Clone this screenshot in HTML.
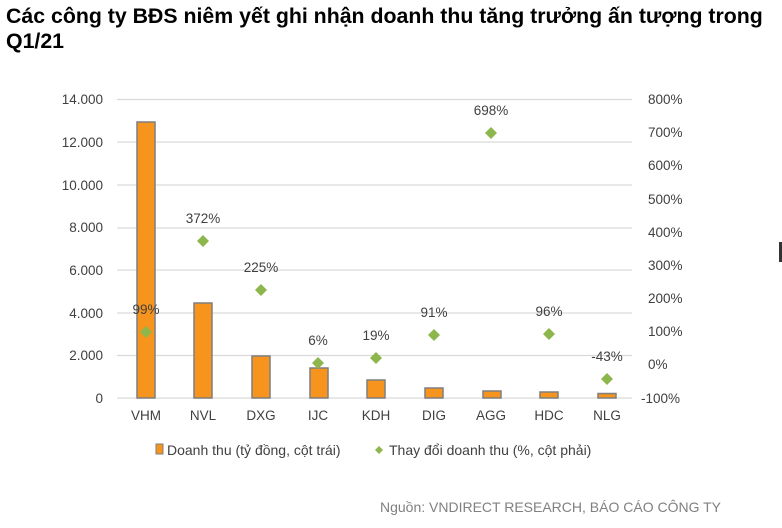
<!DOCTYPE html>
<html><head><meta charset="utf-8"><style>
body{margin:0;background:#fff;width:782px;height:528px;overflow:hidden;font-family:"Liberation Sans",Arial,sans-serif}
.t{position:absolute;left:6px;top:4px;font-weight:bold;font-size:21.3px;line-height:25px;color:#000;white-space:nowrap}
</style></head><body>
<div class="t">Các công ty BĐS niêm yết ghi nhận doanh thu tăng trưởng ấn tượng trong<br>Q1/21</div>
<svg width="782" height="528" style="position:absolute;left:0;top:0" font-family="Liberation Sans,Arial,sans-serif">
<g stroke="#d9d9d9" stroke-width="1.3">
<line x1="117" x2="632" y1="99.5" y2="99.5"/><line x1="117" x2="632" y1="142" y2="142"/>
<line x1="117" x2="632" y1="185" y2="185"/><line x1="117" x2="632" y1="228" y2="228"/>
<line x1="117" x2="632" y1="270" y2="270"/><line x1="117" x2="632" y1="313" y2="313"/>
<line x1="117" x2="632" y1="355.5" y2="355.5"/><line x1="117" x2="632" y1="398" y2="398"/>
</g>
<g font-size="13.5" fill="#404040" text-anchor="end">
<text x="103" y="104">14.000</text><text x="103" y="147">12.000</text><text x="103" y="190">10.000</text>
<text x="103" y="232">8.000</text><text x="103" y="275">6.000</text><text x="103" y="318">4.000</text>
<text x="103" y="360">2.000</text><text x="103" y="403">0</text>
</g>
<g font-size="13.5" fill="#404040" text-anchor="start">
<text x="648" y="104">800%</text><text x="648" y="137">700%</text><text x="648" y="170">600%</text>
<text x="648" y="204">500%</text><text x="648" y="237">400%</text><text x="648" y="270">300%</text>
<text x="648" y="303">200%</text><text x="648" y="336">100%</text><text x="648" y="369">0%</text>
<text x="641" y="403">-100%</text>
</g>
<g fill="#F7941D" stroke="#7f7f7f" stroke-width="1.5">
<rect x="137" y="122" width="18" height="276"/>
<rect x="194" y="303" width="18" height="95"/>
<rect x="252" y="356" width="18" height="42"/>
<rect x="310" y="368" width="18" height="30"/>
<rect x="367" y="380" width="18" height="18"/>
<rect x="425" y="388" width="18" height="10"/>
<rect x="483" y="391" width="18" height="7"/>
<rect x="540" y="392" width="18" height="6"/>
<rect x="598" y="393.5" width="18" height="4.5"/>
</g>
<g fill="#8DB64C">
<path d="M146 326l6 6-6 6-6-6z"/><path d="M203 235l6 6-6 6-6-6z"/><path d="M261 284l6 6-6 6-6-6z"/>
<path d="M318 357l6 6-6 6-6-6z"/><path d="M376 352l6 6-6 6-6-6z"/><path d="M434 329l6 6-6 6-6-6z"/>
<path d="M491 127l6 6-6 6-6-6z"/><path d="M549 328l6 6-6 6-6-6z"/><path d="M607 373l6 6-6 6-6-6z"/>
</g>
<g font-size="13.5" fill="#404040" text-anchor="middle">
<text x="146" y="314">99%</text><text x="203" y="223">372%</text><text x="261" y="272">225%</text>
<text x="318" y="345">6%</text><text x="376" y="340">19%</text><text x="434" y="317">91%</text>
<text x="491" y="115">698%</text><text x="549" y="316">96%</text><text x="607" y="361">-43%</text>
</g>
<g font-size="13.5" fill="#404040" text-anchor="middle">
<text x="146" y="420">VHM</text><text x="203" y="420">NVL</text><text x="261" y="420">DXG</text>
<text x="318" y="420">IJC</text><text x="376" y="420">KDH</text><text x="434" y="420">DIG</text>
<text x="491" y="420">AGG</text><text x="549" y="420">HDC</text><text x="607" y="420">NLG</text>
</g>
<rect x="156" y="444" width="7" height="10" fill="#F7941D" stroke="#7f7f7f"/>
<text x="167" y="455" font-size="14" fill="#404040">Doanh thu (tỷ đồng, cột trái)</text>
<path d="M379 446l4 4-4 4-4-4z" fill="#8DB64C"/>
<text x="389" y="455" font-size="14" fill="#404040">Thay đổi doanh thu (%, cột phải)</text>
<text x="721" y="512" font-size="14" fill="#808080" text-anchor="end">Nguồn: VNDIRECT RESEARCH, BÁO CÁO CÔNG TY</text>
<rect x="779" y="242" width="3" height="20" fill="#333"/>
</svg>
</body></html>
